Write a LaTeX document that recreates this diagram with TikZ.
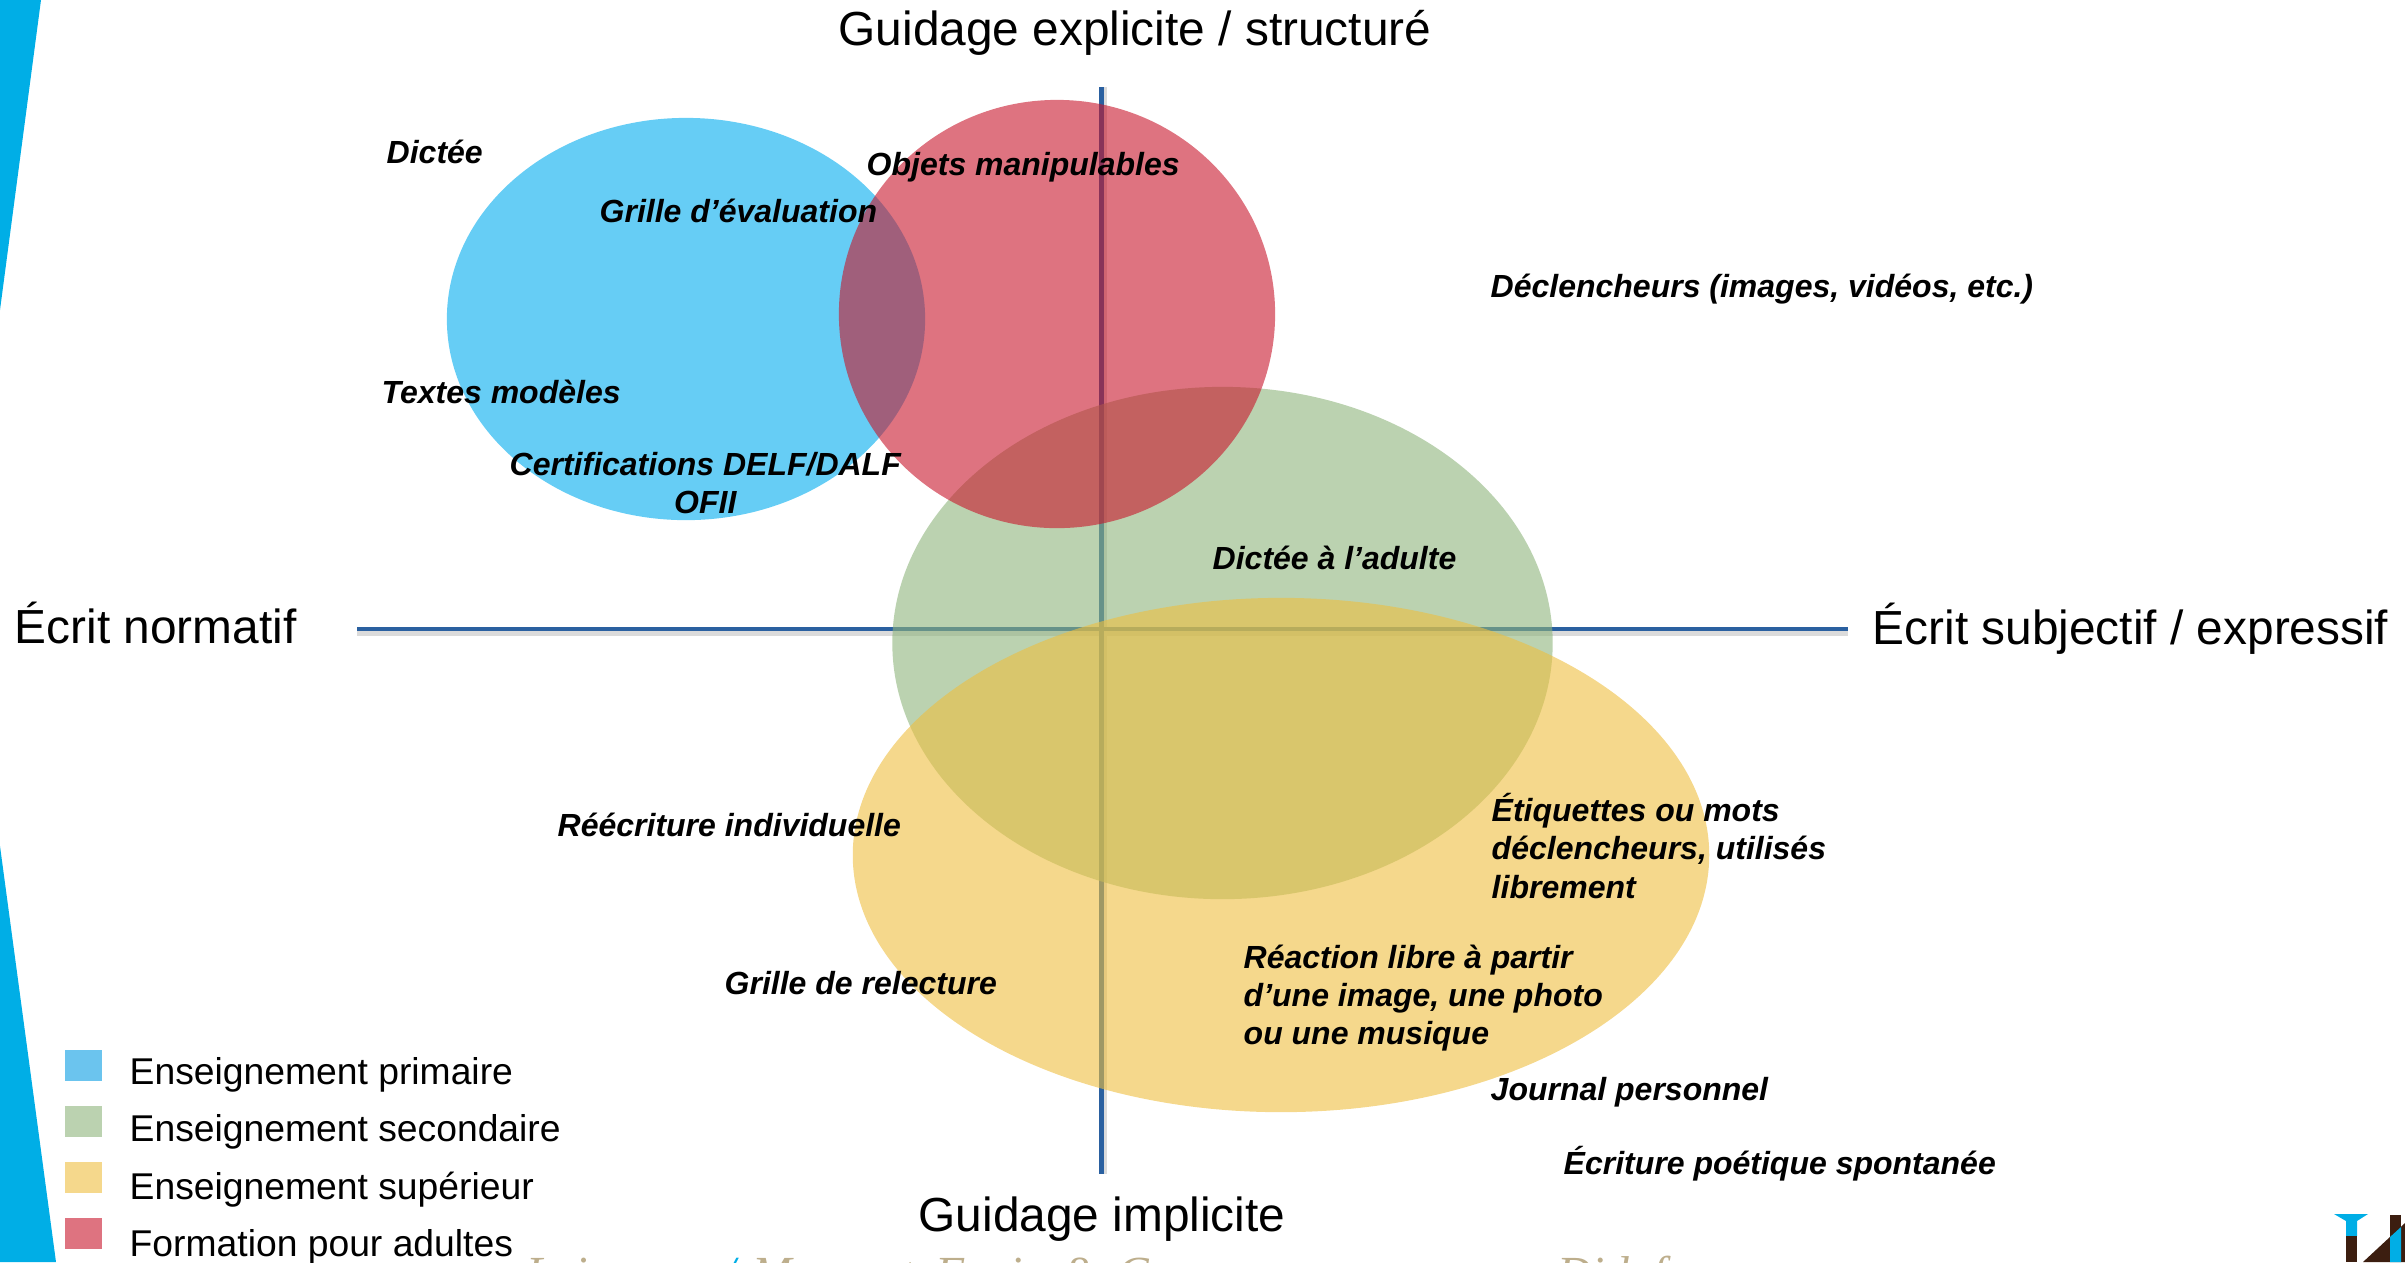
\documentclass[tikz,border=0pt]{standalone}
\usepackage{fontspec}
\setmainfont{Liberation Sans}
\newfontfamily\footfont{Liberation Serif}
\usetikzlibrary{positioning, shapes.geometric}

\definecolor{bleu}{HTML}{00ACEE}
\definecolor{vert}{HTML}{8EB47B}
\definecolor{jaune}{HTML}{EEBE3F}
\definecolor{rouge}{HTML}{C8162B}
\definecolor{axe}{HTML}{2A60A0}
\definecolor{bande}{HTML}{00AEE6}
\definecolor{brun}{HTML}{3C1E10}
\definecolor{ocre}{HTML}{BDAE8C}

\tikzset{
  zone/.style={ellipse, minimum width=#1, inner sep=0pt, fill opacity=0.6},
  axis/.style={draw=axe, line width=1.4pt},
  axisshadow/.style={draw=black!14, line width=1.6pt},
  axislabel/.style={font=\fontsize{13.6}{16}\selectfont, inner sep=0pt},
  tool/.style={font=\fontsize{9.1}{10.85}\selectfont\bfseries\itshape, inner sep=0pt, align=left, anchor=west},
  legendbox/.style={minimum width=0.36cm, minimum height=0.31cm, inner sep=0pt},
  legendtext/.style={font=\fontsize{10.6}{13}\selectfont, inner sep=0pt, anchor=base west},
  foot/.style={font=\fontsize{13.5}{16}\selectfont\footfont\itshape, text=ocre, inner sep=0pt, anchor=base west}
}

\begin{document}
\begin{tikzpicture}[x=0.01cm, y=-0.01cm]
  \useasboundingbox (0,0) rectangle (2405,1262);
  \clip (0,0) rectangle (2405,1262);

  % Side band
  \fill[bande] (0,0) -- (41,0) -- (0,310) -- cycle;
  \fill[bande] (0,846) -- (56,1262) -- (0,1262) -- cycle;

  % Axes
  \coordinate (west) at (357,629);
  \coordinate (east) at (1848,629);
  \coordinate (north) at (1101.5,87);
  \coordinate (south) at (1101.5,1174);
  \draw[axisshadow] ([yshift=-1.1pt]west) -- ([yshift=-1.1pt]east);
  \draw[axisshadow] ([xshift=0.9pt]north) -- ([xshift=0.9pt]south);
  \draw[axis] (west) -- (east);
  \draw[axis] (north) -- (south);

  % Zones
  \node[zone=4.78cm, minimum height=4.02cm, fill=bleu] (primaire) at (686,319) {};
  \node[zone=6.60cm, minimum height=5.12cm, fill=vert] (secondaire) at (1222.5,643) {};
  \node[zone=8.56cm, minimum height=5.14cm, fill=jaune] (superieur) at (1281,855) {};
  \node[zone=4.36cm, minimum height=4.28cm, fill=rouge] (adultes) at (1057,314) {};

  % Axis labels
  \node[axislabel] (haut) at (1135,33) {Guidage explicite / structuré};
  \node[axislabel] (bas) at (1102,1219.5) {Guidage implicite};
  \node[axislabel, anchor=west] (gauche) at (14,623) {Écrit normatif};
  \node[axislabel, anchor=west] (droite) at (1872,629) {Écrit subjectif / expressif};

  % Tools
  \node[tool] (dictee) at (386,152) {Dictée};
  \node[tool] (grille) at (599,211) {Grille d’évaluation};
  \node[tool] (objets) at (866,167) {Objets manipulables};
  \node[tool] (declencheurs) at (1490,289) {Déclencheurs (images, vidéos, etc.)};
  \node[tool] (textes) at (381,392) {Textes modèles};
  \node[tool, align=center] (certif) at (509,483) {Certifications DELF/DALF\\OFII};
  \node[tool] (adulte) at (1212,558) {Dictée à l’adulte};
  \node[tool] (reecriture) at (557,825) {Réécriture individuelle};
  \node[tool] (etiquettes) at (1491,846) {Étiquettes ou mots\\déclencheurs, utilisés\\librement};
  \node[tool] (relecture) at (724,983) {Grille de relecture};
  \node[tool] (reaction) at (1243,998) {Réaction libre à partir\\d’une image, une photo\\ou une musique};
  \node[tool] (journal) at (1490,1092) {Journal personnel};
  \node[tool] (poetique) at (1563,1164) {Écriture poétique spontanée};

  % Legend
  \foreach \name/\col/\y/\base/\txt in {a/6BC4EE/1065.5/1084/Enseignement primaire,
                                        b/BBD2B0/1121.5/1141.5/Enseignement secondaire,
                                        c/F5D88C/1177.5/1199/Enseignement supérieur,
                                        d/DE7380/1233.5/1256.5/Formation pour adultes}{
    \definecolor{legendcol}{HTML}{\col}
    \node[legendbox, fill=legendcol] (box\name) at (83.5,\y) {};
    \node[legendtext] (text\name) at (129,\base) {\txt};
  }

  % Footer, cut by the page edge
  \node[foot] (foota) at (526,1289) {Lejeune};
  \node[foot, text=bande] (footb) at (722,1289) {/};
  \node[foot] (footc) at (752,1289) {Marquet};
  \node[foot] (footd) at (935,1289) {Fenice};
  \node[foot] (foote) at (1062,1289) {\&};
  \node[foot] (footf) at (1117,1289) {Co};
  \node[foot] (footg) at (1557,1289) {Didaf};

  % Logo
  \fill[bande] (2334,1214) -- (2368,1214) -- (2357,1221) -- (2357,1236) -- (2346,1236) -- (2346,1221) -- cycle;
  \fill[brun] (2346,1236) rectangle (2357,1262);
  \fill[brun] (2390,1215) rectangle (2401,1262);
  \fill[brun] (2363,1262) -- (2405,1223) -- (2405,1262) -- cycle;
  \fill[bande] (2390,1237) -- (2401,1227) -- (2401,1262) -- (2390,1262) -- cycle;
\end{tikzpicture}
\end{document}
